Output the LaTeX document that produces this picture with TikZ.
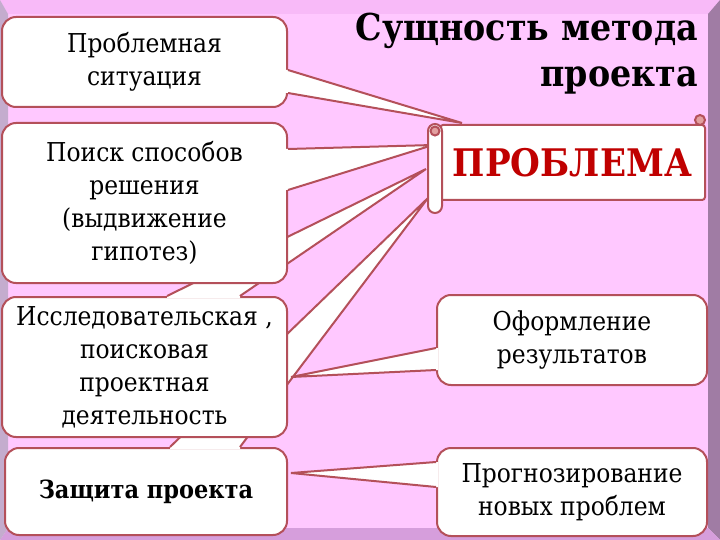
\documentclass[tikz,border=0pt]{standalone}
\usepackage{fontspec}
\setmainfont{DejaVu Serif}[FakeStretch=0.9]
\usepackage{tikz}
\usetikzlibrary{
  calc,
  positioning
}
\definecolor{slidepink}{RGB}{255,200,255}
\definecolor{bevtop}{RGB}{248,186,248}
\definecolor{bevright}{RGB}{160,124,164}
\definecolor{bevbottom}{RGB}{214,158,220}
\definecolor{bevleft}{RGB}{196,172,206}
\definecolor{boxline}{RGB}{180,80,90}
\definecolor{curlfill}{RGB}{226,160,160}
\definecolor{probred}{RGB}{192,0,0}

\begin{document}
\begin{tikzpicture}[x=1pt,y=-1pt]
  \tikzset{
    outline/.style={draw=boxline, line width=2pt},
    note/.style={
      outline, fill=white, rounded corners=14pt, align=center,
      inner sep=0pt, font=\fontsize{26}{33}\selectfont
    },
    gap/.style={fill=white}
  }
\useasboundingbox (0,0) rectangle (720,540);

% slide and frame
\fill[slidepink] (0,0) rectangle (720,540);
\fill[bevtop] (0,0) -- (720,0) -- (708,14) -- (8,14) -- cycle;
\fill[bevright] (720,0) -- (720,540) -- (708,528) -- (708,14) -- cycle;
\fill[bevbottom] (0,540) -- (720,540) -- (708,528) -- (8,528) -- cycle;
\fill[bevleft] (0,0) -- (8,14) -- (8,528) -- (0,540) -- cycle;

\coordinate (tip1) at (462,123);
\coordinate (tip2) at (433,145);
\coordinate (tip3) at (426,169);
\coordinate (tip4) at (428,198);

% Защита проекта
\node[note, minimum width=282pt, minimum height=87pt, font=\bfseries\fontsize{25}{33}\selectfont]
  (defense) at (146,491.5) {Защита проекта};
\coordinate (d1) at ($(defense.north)+(24,0)$);
\coordinate (d2) at ($(defense.north)+(94,0)$);
\fill[gap] ($(d1)+(0,2)$) -- (d1) -- (tip4) -- (d2) -- ($(d2)+(0,2)$) -- cycle;
\draw[outline] (d1) -- (tip4) -- (d2);

% Исследовательская
\node[note, minimum width=285pt, minimum height=140pt]
  (research) at (144.5,367) {Исследовательская ,\\поисковая\\проектная\\деятельность};
\coordinate (r1) at ($(research.north)+(22.5,0)$);
\coordinate (r2) at ($(research.north)+(95.5,0)$);
\fill[gap] ($(r1)+(0,2)$) -- (r1) -- (tip3) -- (r2) -- ($(r2)+(0,2)$) -- cycle;
\draw[outline] (r1) -- (tip3) -- (r2);

% Поиск способов
\node[note, minimum width=285pt, minimum height=160pt]
  (search) at (144.5,203) {Поиск способов\\решения\\(выдвижение\\гипотез)};
\coordinate (s1) at ($(search.east)+(0,-54)$);
\coordinate (s2) at ($(search.east)+(0,-13)$);
\fill[gap] ($(s1)+(-2,0)$) -- (s1) -- (tip2) -- (s2) -- ($(s2)+(-2,0)$) -- cycle;
\draw[outline] (s1) -- (tip2) -- (s2);

% Проблемная ситуация
\node[note, minimum width=285pt, minimum height=90pt]
  (situation) at (144.5,62) {Проблемная\\ситуация};
\coordinate (p1) at ($(situation.east)+(0,8)$);
\coordinate (p2) at ($(situation.east)+(0,31)$);
\fill[gap] ($(p1)+(-2,0)$) -- (p1) -- (tip1) -- (p2) -- ($(p2)+(-2,0)$) -- cycle;
\draw[outline] (p1) -- (tip1) -- (p2);

% Оформление результатов
\node[note, minimum width=270pt, minimum height=90pt]
  (design) at (572,340) {Оформление\\результатов};
\coordinate (o1) at ($(design.west)+(0,8)$);
\coordinate (o2) at ($(design.west)+(0,30)$);
\coordinate (tip5) at ($(research.east)+(3,10)$);
\fill[gap] ($(o1)+(2,0)$) -- (o1) -- (tip5) -- (o2) -- ($(o2)+(2,0)$) -- cycle;
\draw[outline] (o1) -- (tip5) -- (o2);

% Прогнозирование
\node[note, minimum width=270pt, minimum height=88pt]
  (forecast) at (572,492) {Прогнозирование\\новых проблем};
\coordinate (f1) at ($(forecast.west)+(0,-30)$);
\coordinate (f2) at ($(forecast.west)+(0,-5)$);
\coordinate (tip6) at ($(defense.east)+(3,-18.5)$);
\fill[gap] ($(f1)+(2,0)$) -- (f1) -- (tip6) -- (f2) -- ($(f2)+(2,0)$) -- cycle;
\draw[outline] (f1) -- (tip6) -- (f2);

% scroll
\node[outline, fill=white, rounded corners=3pt, minimum width=265pt, minimum height=75pt,
  inner sep=0pt, text=probred, font=\bfseries\fontsize{38}{38}\selectfont]
  (problem) at (572.5,162.5) {ПРОБЛЕМА};
\filldraw[outline, fill=curlfill] (700,120) circle (5pt);
\node[outline, fill=white, rounded corners=7pt, minimum width=14pt, minimum height=89pt,
  inner sep=0pt] (roll) at (435,168.5) {};
\filldraw[outline, fill=curlfill] (roll.north) ++(0,8) circle (4.5pt);

% title
\node[anchor=north east, align=right, inner sep=0pt,
  font=\bfseries\fontsize{37}{46}\selectfont]
  (title) at (698,13) {Сущность метода\\проекта};

\end{tikzpicture}
\end{document}
